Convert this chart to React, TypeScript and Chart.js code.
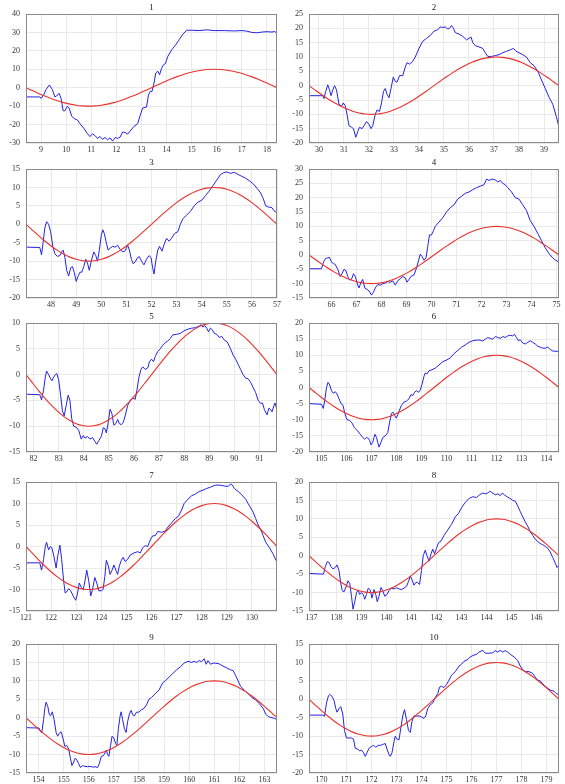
import React, { useEffect, useRef } from "react";
import { Chart, registerables } from "chart.js";

Chart.register(...registerables);

const TITLES = ["1", "2", "3", "4", "5", "6", "7", "8", "9", "10"];

const X_MIN = [8.4, 29.6, 47, 65.1, 81.7, 104.5, 121, 136.9, 153.5, 169.5];
const X_MAX = [18.4, 39.6, 57, 75.1, 91.7, 114.5, 131, 146.9, 163.5, 179.5];

const X_TICKS = [
  [9, 10, 11, 12, 13, 14, 15, 16, 17, 18],
  [30, 31, 32, 33, 34, 35, 36, 37, 38, 39],
  [48, 49, 50, 51, 52, 53, 54, 55, 56, 57],
  [66, 67, 68, 69, 70, 71, 72, 73, 74, 75],
  [82, 83, 84, 85, 86, 87, 88, 89, 90, 91],
  [105, 106, 107, 108, 109, 110, 111, 112, 113, 114],
  [121, 122, 123, 124, 125, 126, 127, 128, 129, 130],
  [137, 138, 139, 140, 141, 142, 143, 144, 145, 146],
  [154, 155, 156, 157, 158, 159, 160, 161, 162, 163],
  [170, 171, 172, 173, 174, 175, 176, 177, 178, 179],
];

const Y_TICKS = [
  [-30, -20, -10, 0, 10, 20, 30, 40],
  [-20, -15, -10, -5, 0, 5, 10, 15, 20, 25],
  [-20, -15, -10, -5, 0, 5, 10, 15],
  [-15, -10, -5, 0, 5, 10, 15, 20, 25, 30],
  [-15, -10, -5, 0, 5, 10],
  [-20, -15, -10, -5, 0, 5, 10, 15, 20],
  [-15, -10, -5, 0, 5, 10, 15],
  [-15, -10, -5, 0, 5, 10, 15, 20],
  [-15, -10, -5, 0, 5, 10, 15, 20],
  [-20, -15, -10, -5, 0, 5, 10, 15],
];

// Reference (red) curve: offsets from each panel's start and values
const RED_T = [
  0, 0.25, 0.5, 0.75, 1, 1.25, 1.5, 1.75, 2, 2.25, 2.5, 2.75, 3, 3.25, 3.5, 3.75, 4, 4.25, 4.5, 4.75,
  5, 5.25, 5.5, 5.75, 6, 6.25, 6.5, 6.75, 7, 7.25, 7.5, 7.75, 8, 8.25, 8.5, 8.75, 9, 9.25, 9.5, 9.75, 10,
];
const RED_Y = [
  0, -1.56, -3.09, -4.54, -5.88, -7.07, -8.09, -8.91, -9.51, -9.88, -10, -9.88, -9.51, -8.91, -8.09, -7.07,
  -5.88, -4.54, -3.09, -1.56, 0, 1.56, 3.09, 4.54, 5.88, 7.07, 8.09, 8.91, 9.51, 9.88, 10, 9.88, 9.51, 8.91,
  8.09, 7.07, 5.88, 4.54, 3.09, 1.56, 0,
];

const BLUE_1 = [[8.4,-5],[8.7,-5],[8.95,-5],[9.0,-5.8],[9.1,-4],[9.2,-1],[9.33,1.5],[9.45,-1],[9.55,-5],[9.62,-4.5],[9.72,-3],[9.8,-6],[9.88,-12.5],[9.95,-12.5],[10.05,-10],[10.12,-11],[10.22,-15.5],[10.35,-17],[10.45,-17.5],[10.55,-19.5],[10.7,-22],[10.85,-25],[10.95,-26.5],[11.05,-25],[11.15,-26],[11.25,-27.5],[11.35,-26.5],[11.45,-28],[11.55,-27],[11.65,-28.3],[11.75,-27.2],[11.85,-29],[11.95,-27],[12.05,-27.5],[12.15,-26.8],[12.25,-24],[12.35,-24.3],[12.45,-25.2],[12.55,-23.5],[12.7,-21],[12.85,-19.5],[12.95,-15],[13.05,-11],[13.2,-10.5],[13.28,-4],[13.35,-2],[13.42,-2],[13.5,2.5],[13.57,8],[13.65,9],[13.72,7],[13.8,10.5],[13.88,12.5],[13.95,13],[14.05,17],[14.2,20.5],[14.35,23],[14.5,26],[14.65,29],[14.8,31.2],[15.0,31.2],[15.3,31],[15.6,31.4],[15.9,31],[16.3,31],[16.7,30.8],[17.0,31],[17.2,30.7],[17.4,30],[17.6,29.8],[17.8,30.2],[18.0,30.4],[18.2,30.2],[18.3,30.5],[18.4,29.7]];

const BLUE_2 = [[29.6,-3.5],[30.15,-3.5],[30.2,-4.5],[30.27,-2],[30.35,0.3],[30.42,-1.5],[30.48,-3.5],[30.55,-1.5],[30.62,0],[30.7,-1.5],[30.8,-6.5],[30.9,-7.2],[30.97,-6],[31.05,-7],[31.12,-10],[31.2,-14],[31.3,-14.5],[31.38,-15],[31.47,-18],[31.55,-16],[31.62,-14.5],[31.72,-15],[31.8,-14],[31.9,-12.5],[32.0,-13.5],[32.08,-15],[32.15,-14],[32.25,-10],[32.32,-8.5],[32.42,-9],[32.5,-6],[32.58,-2],[32.65,-1],[32.72,-3],[32.8,-4.2],[32.88,-1],[32.97,3],[33.05,1.5],[33.12,1.2],[33.22,3.5],[33.35,3.5],[33.45,6.5],[33.52,8],[33.62,7.5],[33.75,8.5],[33.85,10],[34.0,13],[34.15,15.5],[34.3,16.5],[34.45,17.5],[34.6,19],[34.75,19.5],[34.85,20.5],[34.95,20.3],[35.05,20.5],[35.15,19.8],[35.22,20],[35.3,21],[35.38,20],[35.45,18.5],[35.6,18],[35.75,17.2],[35.9,16],[36.0,16.5],[36.08,17],[36.15,15],[36.25,14],[36.4,13.5],[36.55,13],[36.65,11.5],[36.75,10.2],[36.9,10.2],[37.05,10.5],[37.2,10.8],[37.35,11.5],[37.5,12],[37.65,12.5],[37.78,13],[37.88,12],[38.0,11.5],[38.15,10.8],[38.3,10],[38.45,8],[38.6,7],[38.75,5],[38.9,2],[39.05,-1],[39.2,-4],[39.35,-6.5],[39.5,-11],[39.6,-14.5]];

const BLUE_3 = [[47,-6.2],[47.55,-6.3],[47.62,-8.3],[47.68,-5],[47.75,-1],[47.82,0.7],[47.9,0],[47.98,-2],[48.07,-6],[48.15,-8],[48.25,-8.7],[48.35,-8.5],[48.42,-7.5],[48.48,-7],[48.55,-9],[48.62,-12.5],[48.7,-14],[48.78,-11.8],[48.85,-11.5],[48.92,-13],[49.0,-15.5],[49.08,-14],[49.15,-13],[49.22,-13],[49.3,-11.5],[49.38,-9.5],[49.45,-10.5],[49.52,-12.5],[49.6,-10],[49.7,-7.5],[49.78,-8.5],[49.85,-10],[49.92,-7],[50.0,-3],[50.06,-1.5],[50.12,-2.5],[50.2,-5],[50.27,-7],[50.35,-6.5],[50.45,-6],[50.55,-6.2],[50.65,-5.7],[50.75,-6.8],[50.85,-7.5],[50.95,-7.2],[51.05,-5.7],[51.12,-7],[51.2,-9.5],[51.27,-10.7],[51.35,-10.2],[51.45,-9],[51.52,-8.8],[51.6,-10],[51.7,-11],[51.8,-9.5],[51.9,-8.5],[51.98,-9],[52.05,-12],[52.1,-13.5],[52.17,-10],[52.25,-7],[52.32,-6],[52.42,-7.3],[52.5,-5.5],[52.6,-3.8],[52.7,-4.6],[52.8,-3.8],[52.92,-2.5],[53.05,-2],[53.15,0],[53.25,1.5],[53.4,2.5],[53.55,3.5],[53.7,5],[53.85,6],[54.0,6.5],[54.15,7.8],[54.3,9],[54.45,10.5],[54.6,12],[54.75,13.5],[54.88,14],[55.0,14.2],[55.15,13.8],[55.3,14.1],[55.45,13.5],[55.6,13],[55.75,12.5],[55.9,11.8],[56.05,11],[56.2,9.8],[56.35,8.5],[56.45,7],[56.55,5],[56.65,4.7],[56.8,4.5],[56.9,3.5],[57,3.2]];

const BLUE_4 = [[65.1,-4.8],[65.6,-4.8],[65.68,-2.5],[65.76,-1.2],[65.85,-1],[65.92,-0.8],[66.0,-2.5],[66.08,-3],[66.15,-3.3],[66.25,-5],[66.35,-7.5],[66.42,-6.5],[66.5,-5],[66.58,-5.5],[66.65,-7.5],[66.73,-8.7],[66.8,-8.5],[66.88,-6.5],[66.95,-7.5],[67.05,-10.5],[67.1,-11.5],[67.18,-9.5],[67.25,-8.5],[67.33,-11.5],[67.42,-12],[67.5,-12.5],[67.6,-14],[67.68,-13],[67.75,-11.5],[67.85,-10.3],[67.95,-10.5],[68.05,-10],[68.15,-9.8],[68.25,-9.3],[68.35,-9.5],[68.45,-9],[68.55,-10.5],[68.65,-9],[68.75,-8.3],[68.85,-7.5],[68.95,-8],[69.02,-9.5],[69.1,-8.5],[69.2,-7.3],[69.3,-7],[69.4,-4.5],[69.48,-2],[69.55,0.3],[69.62,-0.5],[69.7,-1.8],[69.78,-1],[69.85,3],[69.92,7],[70.0,7],[70.08,8.5],[70.15,10],[70.3,11.5],[70.45,13],[70.6,15],[70.75,16.5],[70.9,17.5],[71.05,19.5],[71.2,20.5],[71.35,21.5],[71.5,22],[71.65,22.8],[71.8,23.5],[71.95,24],[72.1,24.5],[72.2,26.5],[72.3,26],[72.42,26.5],[72.55,26.2],[72.65,25.5],[72.75,26],[72.85,25],[72.95,24.5],[73.05,23.5],[73.2,22],[73.35,20],[73.5,19.5],[73.65,17.5],[73.8,15.5],[73.95,12],[74.1,10],[74.25,7.5],[74.4,5],[74.55,2.5],[74.7,0.5],[74.85,-1],[74.95,-1.8],[75.05,-2.2],[75.1,-3]];

const BLUE_5 = [[81.7,-3.8],[82.25,-3.9],[82.32,-4.9],[82.4,-3],[82.47,-0.5],[82.52,0.7],[82.6,0],[82.68,-0.8],[82.73,-1.2],[82.8,-0.5],[82.87,0],[82.93,0.2],[83.0,-1],[83.08,-4],[83.15,-7],[83.22,-8],[83.3,-6],[83.38,-4],[83.45,-5],[83.52,-8.5],[83.6,-10],[83.7,-10.2],[83.8,-10.8],[83.9,-12.5],[83.98,-11.8],[84.05,-12.3],[84.15,-12],[84.25,-12.5],[84.35,-12.2],[84.45,-13],[84.52,-13.5],[84.6,-12.8],[84.7,-12],[84.78,-10.3],[84.85,-10.5],[84.9,-11.3],[84.97,-9.5],[85.05,-6.7],[85.12,-7.5],[85.2,-9.8],[85.28,-9.5],[85.35,-8.7],[85.42,-9.5],[85.5,-9.7],[85.58,-9.2],[85.65,-8],[85.75,-6],[85.85,-5],[85.95,-4.5],[86.05,-4.8],[86.12,-3],[86.2,-0.5],[86.28,1],[86.35,1.5],[86.45,1],[86.55,1.3],[86.62,2.5],[86.7,3],[86.78,2.5],[86.85,3.5],[86.95,4.5],[87.05,5],[87.15,5.7],[87.25,6.2],[87.35,6.5],[87.45,7],[87.55,7.7],[87.7,7.8],[87.85,8],[88.0,8.5],[88.15,8.8],[88.3,9],[88.45,9.1],[88.6,9.4],[88.68,9.7],[88.75,9.2],[88.82,9.5],[88.9,9],[88.97,8.3],[89.05,9],[89.12,8.7],[89.2,8],[89.3,7.8],[89.4,7.2],[89.5,7.4],[89.6,6.7],[89.72,6.3],[89.85,5],[89.95,3.8],[90.05,3],[90.15,2],[90.25,1],[90.35,0],[90.45,-0.7],[90.55,-0.8],[90.65,-1.5],[90.75,-2.5],[90.85,-3.5],[90.95,-5],[91.05,-5.6],[91.12,-5.5],[91.2,-6.8],[91.3,-7.8],[91.38,-6.5],[91.45,-6.8],[91.5,-7.2],[91.58,-6],[91.62,-5.5],[91.68,-6.5],[91.7,-7.8]];

const BLUE_6 = [[104.5,-5],[105.0,-5.2],[105.07,-6.5],[105.13,-4],[105.2,0],[105.26,1.6],[105.33,0.8],[105.4,-1],[105.47,-1.8],[105.55,-1.3],[105.62,-2],[105.7,-3.5],[105.78,-5],[105.86,-5.5],[105.93,-8],[106.02,-10],[106.12,-10.2],[106.22,-11],[106.32,-12.5],[106.45,-13.5],[106.55,-14.5],[106.65,-15.5],[106.72,-16],[106.8,-15.5],[106.88,-15.8],[106.93,-16.5],[106.98,-17.8],[107.05,-17],[107.1,-15.5],[107.14,-14.5],[107.2,-15.5],[107.25,-17],[107.3,-18.5],[107.38,-17],[107.45,-15.5],[107.55,-15],[107.65,-14],[107.72,-11],[107.8,-8],[107.87,-7.7],[107.93,-8.7],[107.99,-9.5],[108.05,-8.5],[108.12,-7],[108.2,-5.5],[108.3,-4.5],[108.4,-4.2],[108.5,-3.5],[108.58,-2.2],[108.65,-2.5],[108.72,-1.5],[108.8,-1],[108.88,-1.5],[108.95,-0.8],[109.02,1],[109.1,3.5],[109.15,4.5],[109.22,4.2],[109.3,5.2],[109.42,5.5],[109.55,6],[109.7,7],[109.85,8],[110.0,8.5],[110.15,9.2],[110.3,10.5],[110.45,11.5],[110.6,12.5],[110.75,13.2],[110.9,14],[111.05,14.5],[111.2,14.7],[111.35,14.7],[111.45,14.4],[111.55,15],[111.65,15.5],[111.75,15.2],[111.85,15],[111.95,15.8],[112.05,15.5],[112.15,15.2],[112.25,15.8],[112.35,15.5],[112.45,16],[112.55,16.2],[112.65,16],[112.72,16.5],[112.8,15.5],[112.88,14.5],[112.95,14.8],[113.05,13.8],[113.15,13.5],[113.25,14],[113.35,14.5],[113.45,14],[113.55,13.5],[113.65,12.8],[113.75,12.5],[113.85,12.2],[113.95,12.2],[114.05,12.5],[114.15,11.8],[114.25,11.3],[114.5,11.2]];

const BLUE_7 = [[121,-3.8],[121.55,-3.8],[121.62,-5.5],[121.7,-3],[121.77,0],[121.82,1],[121.9,-0.8],[121.97,0],[122.03,-0.3],[122.1,-2],[122.2,-5],[122.27,-2],[122.35,0.3],[122.42,-3],[122.5,-8],[122.56,-10.8],[122.63,-10.5],[122.7,-9.8],[122.78,-10.3],[122.88,-11.5],[122.98,-12.5],[123.05,-11],[123.12,-8.5],[123.2,-9.5],[123.28,-10],[123.35,-8],[123.42,-5.5],[123.5,-8],[123.58,-11.5],[123.65,-10],[123.74,-7.2],[123.82,-8.5],[123.9,-10.3],[124.0,-10.3],[124.07,-10],[124.14,-7],[124.2,-3.2],[124.28,-4.5],[124.35,-6.5],[124.43,-5.5],[124.5,-4.3],[124.58,-5.5],[124.65,-6.5],[124.72,-4.5],[124.8,-3.2],[124.87,-2.5],[124.95,-3.5],[125.05,-3],[125.15,-2],[125.3,-1.5],[125.45,-1.2],[125.55,-1.5],[125.65,-0.3],[125.75,0.2],[125.85,0],[125.95,1.5],[126.05,2.5],[126.15,2.5],[126.25,3.5],[126.4,3.3],[126.55,3.6],[126.65,4.5],[126.8,5.5],[126.95,6.5],[127.07,7],[127.2,8.5],[127.3,10],[127.45,11],[127.6,11.8],[127.75,12.2],[127.9,12.8],[128.05,13.1],[128.2,13.5],[128.35,13.8],[128.5,14.2],[128.65,14.3],[128.8,14.2],[128.95,14],[129.05,14],[129.15,14.5],[129.22,14.3],[129.3,13.5],[129.45,12.8],[129.6,12],[129.75,11],[129.85,10],[129.95,9],[130.05,8],[130.15,6.5],[130.25,5],[130.35,4],[130.45,2.5],[130.55,1],[130.7,-0.3],[130.85,-1.8],[131,-3.7]];

const BLUE_8 = [[136.9,-4.8],[137.48,-5],[137.55,-3],[137.63,-1.6],[137.7,-1.8],[137.78,-3],[137.86,-3.6],[137.95,-3.2],[138.02,-2.5],[138.1,-4],[138.17,-7.5],[138.23,-9.5],[138.3,-9.8],[138.38,-8.5],[138.46,-6.8],[138.53,-7.5],[138.6,-11],[138.66,-14.5],[138.73,-12.5],[138.8,-10],[138.86,-9.3],[138.93,-10.5],[139.0,-10],[139.07,-10.5],[139.13,-11.8],[139.2,-10.5],[139.27,-8.8],[139.35,-9.3],[139.42,-11.5],[139.5,-9.2],[139.57,-10.5],[139.63,-12.5],[139.7,-11],[139.78,-8.6],[139.85,-9.5],[139.93,-11],[140.02,-10.5],[140.1,-9.5],[140.2,-8.8],[140.3,-9],[140.4,-8.7],[140.5,-9],[140.6,-9.2],[140.7,-8.8],[140.8,-8.3],[140.88,-7],[140.95,-5.5],[141.02,-6.5],[141.1,-8],[141.18,-7.2],[141.25,-7.3],[141.32,-7.8],[141.4,-4],[141.47,0],[141.55,1.5],[141.62,0],[141.7,-1.5],[141.78,0.5],[141.85,1.8],[141.92,0.5],[142.0,2],[142.08,3.5],[142.18,4],[142.3,5.5],[142.45,7],[142.6,8.5],[142.75,10.5],[142.88,11.5],[143.0,13],[143.15,14.5],[143.3,15.5],[143.45,16],[143.6,15.8],[143.72,16.5],[143.85,17],[143.95,16.8],[144.05,17],[144.13,17.5],[144.25,17],[144.35,16.5],[144.45,16.8],[144.55,16.3],[144.63,17],[144.72,16.5],[144.82,16],[144.95,15.5],[145.05,15],[145.15,14.8],[145.25,13.5],[145.35,12],[145.45,10.5],[145.55,9.2],[145.65,8],[145.75,6.5],[145.85,5.5],[145.95,4.5],[146.05,3.8],[146.15,3.3],[146.25,3],[146.35,2.5],[146.45,2],[146.55,1],[146.65,-0.5],[146.75,-2],[146.82,-3.2],[146.9,-2.5]];

const BLUE_9 = [[153.5,-2.7],[154.02,-2.8],[154.08,-3.8],[154.13,-4],[154.2,-0.5],[154.25,2.5],[154.3,4.2],[154.37,3],[154.43,0.8],[154.48,0.5],[154.55,1.6],[154.62,-0.5],[154.7,-4],[154.76,-5],[154.83,-4.2],[154.9,-3.8],[154.97,-5.5],[155.05,-7.8],[155.12,-7.5],[155.2,-8.5],[155.27,-11],[155.33,-13],[155.4,-12],[155.46,-11],[155.53,-11.5],[155.6,-12.5],[155.67,-13.5],[155.75,-13],[155.85,-13.2],[155.95,-13.3],[156.05,-13.2],[156.15,-13.4],[156.25,-13.3],[156.35,-13.5],[156.42,-12.5],[156.5,-10.5],[156.58,-10.3],[156.65,-9.5],[156.7,-8.8],[156.75,-10],[156.8,-10.5],[156.87,-7.5],[156.93,-5],[157.0,-5.5],[157.07,-7],[157.12,-7.5],[157.18,-3],[157.25,0.5],[157.29,1.6],[157.35,-0.5],[157.42,-3],[157.49,-4],[157.55,-1],[157.62,1],[157.69,2],[157.75,0.8],[157.82,0.5],[157.9,1.5],[158.0,1.5],[158.1,2.2],[158.2,2.5],[158.3,3.5],[158.4,5],[158.5,5.5],[158.65,6.5],[158.8,7.5],[158.95,9.5],[159.05,10],[159.2,11],[159.35,12],[159.5,13],[159.65,13.8],[159.8,14.8],[159.95,15.3],[160.1,15],[160.2,15.3],[160.3,15],[160.4,15.5],[160.5,15.2],[160.6,16],[160.68,14.5],[160.75,15.5],[160.85,14.5],[160.95,14.8],[161.05,14.8],[161.2,14.6],[161.35,14],[161.5,13.5],[161.65,13],[161.75,12.8],[161.85,11.5],[161.95,10],[162.05,8.5],[162.2,7.5],[162.35,6.5],[162.5,5.5],[162.65,4.8],[162.8,3.8],[162.95,2.5],[163.05,1],[163.15,0.3],[163.3,0],[163.4,-0.2],[163.5,-0.5]];

const BLUE_10 = [[169.5,-4.3],[170.05,-4.3],[170.12,-4.6],[170.2,-1],[170.28,1],[170.33,1.3],[170.42,0.8],[170.5,-0.3],[170.57,-2.5],[170.62,-3.5],[170.7,-2.5],[170.77,-2],[170.85,-4],[170.92,-8.5],[171.0,-10.5],[171.1,-10.5],[171.2,-10.5],[171.28,-10.8],[171.35,-13.3],[171.45,-13.5],[171.52,-14],[171.6,-13.8],[171.68,-14.5],[171.75,-15.5],[171.82,-14.5],[171.9,-13.3],[172.0,-12.8],[172.08,-12.5],[172.17,-13],[172.27,-12.5],[172.37,-12.5],[172.47,-12.2],[172.55,-12],[172.62,-13.5],[172.7,-15],[172.75,-15.5],[172.82,-14.5],[172.9,-11.5],[172.95,-10],[173.02,-10.8],[173.1,-11],[173.18,-7.5],[173.25,-4.5],[173.32,-2.8],[173.4,-5.5],[173.48,-8.5],[173.55,-9],[173.62,-6],[173.7,-4.5],[173.8,-4.6],[173.9,-4.5],[174.0,-4.8],[174.1,-5.2],[174.17,-4.5],[174.25,-2.5],[174.35,-1.5],[174.45,-1],[174.55,0.5],[174.65,1.5],[174.72,3.3],[174.8,3.5],[174.9,3.2],[175.0,4],[175.1,5.2],[175.2,6.5],[175.35,7.5],[175.5,9],[175.6,9.5],[175.7,10.3],[175.85,10.8],[175.95,11.5],[176.1,12],[176.2,12.2],[176.3,12.8],[176.45,13.3],[176.55,12.5],[176.7,12.5],[176.85,12.6],[176.95,13.2],[177.05,12.8],[177.15,13.3],[177.25,12.8],[177.35,13.2],[177.45,12.8],[177.55,12.2],[177.7,11.5],[177.85,10.5],[177.95,9],[178.05,8],[178.15,7.5],[178.3,7.5],[178.45,7],[178.55,6],[178.65,5.2],[178.75,5],[178.85,4.2],[178.95,3.5],[179.05,3],[179.15,2.5],[179.3,2.2],[179.4,1.5],[179.5,1.3]];

const BLUE = [BLUE_1, BLUE_2, BLUE_3, BLUE_4, BLUE_5, BLUE_6, BLUE_7, BLUE_8, BLUE_9, BLUE_10];

// Layout (pixels)
const ROW_PLOT_TOP = [14, 169, 323, 482, 644];
const PLOT_H = 129;
const COL_CANVAS_LEFT = [0, 283];
const COL_PLOT_W = [251, 250];
const Y_AXIS_W = 26;
const PAD_TOP = 14;
const PAD_RIGHT = 6;
const X_AXIS_H = 16;

const FONT = "'Liberation Serif', 'Times New Roman', serif";

const boxPlugin = {
  id: "plotBox",
  afterDatasetsDraw(chart: any) {
    const { ctx, chartArea: a } = chart;
    ctx.save();
    ctx.strokeStyle = "#8a8a8a";
    ctx.lineWidth = 1;
    ctx.strokeRect(Math.round(a.left) + 0.5, Math.round(a.top) + 0.5, Math.round(a.right - a.left) - 1, Math.round(a.bottom - a.top) - 1);
    ctx.restore();
  },
};

const panelTitlePlugin = {
  id: "panelTitle",
  afterDraw(chart: any, _args: any, opts: any) {
    const { ctx, chartArea: a } = chart;
    ctx.save();
    ctx.fillStyle = "#222";
    ctx.font = `9px ${FONT}`;
    ctx.textAlign = "center";
    ctx.textBaseline = "middle";
    ctx.fillText(opts.text, (a.left + a.right) / 2, a.top - 6);
    ctx.restore();
  },
};

function Panel({ idx }: { idx: number }) {
  const ref = useRef<HTMLCanvasElement | null>(null);
  const row = Math.floor(idx / 2);
  const col = idx % 2;
  const canvasW = Y_AXIS_W + COL_PLOT_W[col] + PAD_RIGHT;
  const canvasH = PAD_TOP + PLOT_H + X_AXIS_H;
  const canvasLeft = COL_CANVAS_LEFT[col];
  const canvasTop = ROW_PLOT_TOP[row] - PAD_TOP;

  useEffect(() => {
    if (!ref.current) return;
    const yt = Y_TICKS[idx];
    const chart = new Chart(ref.current, {
      type: "line",
      data: {
        datasets: [
          {
            data: RED_T.map((t, i) => ({ x: X_MIN[idx] + t, y: RED_Y[i] })),
            borderColor: "#e8322c",
            borderWidth: 1.1,
            pointRadius: 0,
            tension: 0.3,
            fill: false,
          },
          {
            data: BLUE[idx].map((p) => ({ x: p[0], y: p[1] })),
            borderColor: "#2222e6",
            borderWidth: 1,
            pointRadius: 0,
            tension: 0,
            fill: false,
          },
        ],
      },
      options: {
        responsive: false,
        maintainAspectRatio: false,
        animation: false,
        events: [],
        layout: { padding: { top: PAD_TOP, right: PAD_RIGHT, bottom: 0, left: 0 } },
        plugins: {
          legend: { display: false },
          title: { display: false },
          tooltip: { enabled: false },
          panelTitle: { text: TITLES[idx] },
        },
        scales: {
          x: {
            type: "linear",
            min: X_MIN[idx],
            max: X_MAX[idx],
            afterBuildTicks: (s: any) => {
              s.ticks = X_TICKS[idx].map((v) => ({ value: v }));
            },
            afterFit: (s: any) => {
              s.height = X_AXIS_H;
            },
            grid: { color: "#e9e9e9", lineWidth: 1, drawTicks: false },
            border: { display: false },
            ticks: {
              padding: 2,
              autoSkip: false,
              maxRotation: 0,
              color: "#333",
              font: { family: FONT, size: 8 },
            },
          },
          y: {
            type: "linear",
            min: yt[0],
            max: yt[yt.length - 1],
            afterBuildTicks: (s: any) => {
              s.ticks = yt.map((v) => ({ value: v }));
            },
            afterFit: (s: any) => {
              s.width = Y_AXIS_W;
            },
            grid: { color: "#e9e9e9", lineWidth: 1, drawTicks: false },
            border: { display: false },
            ticks: {
              padding: 6,
              autoSkip: false,
              color: "#333",
              font: { family: FONT, size: 8 },
            },
          },
        },
      } as any,
      plugins: [boxPlugin, panelTitlePlugin],
    });
    return () => chart.destroy();
  }, [idx]);

  return (
    <canvas
      ref={ref}
      width={canvasW}
      height={canvasH}
      style={{ position: "absolute", left: canvasLeft, top: canvasTop, width: canvasW, height: canvasH }}
    />
  );
}

export default function App() {
  return (
    <div
      style={{
        position: "fixed",
        left: 0,
        top: 0,
        width: 565,
        height: 784,
        background: "#ffffff",
        overflow: "hidden",
      }}
    >
      {TITLES.map((_, i) => (
        <Panel key={i} idx={i} />
      ))}
    </div>
  );
}
